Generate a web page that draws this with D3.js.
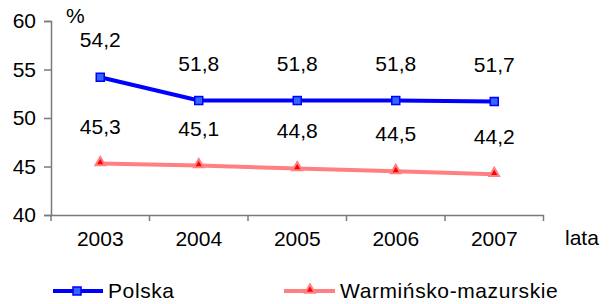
<!DOCTYPE html>
<html>
<head>
<meta charset="utf-8">
<script src="https://cdn.jsdelivr.net/npm/d3@7"></script>
<style>
  body { margin: 0; background: #fff; }
  svg { font-family: "Liberation Sans", Arial, sans-serif; }
  .tick text { font-size: 21px; fill: #000; }
</style>
</head>
<body>
<div class="chart"></div>
<script>
// data
var years = ["2003", "2004", "2005", "2006", "2007"];
var polska = [54.2, 51.8, 51.8, 51.8, 51.7];
var warminsko = [45.3, 45.1, 44.8, 44.5, 44.2];
var yTicks = [40, 45, 50, 55, 60];
var seriesNames = ["Polska", "Warmińsko-mazurskie"];

var svgWidth = 616;
var svgHeight = 304;

var svg = d3
  .select(".chart")
  .append("svg")
  .attr("width", svgWidth)
  .attr("height", svgHeight);

// scales
var xBand = d3.scaleBand().domain(years).range([51, 543.5]);
var yLinearScale = d3.scaleLinear().domain([40, 60]).range([215, 21]);
var xc = (d) => xBand(d) + xBand.bandwidth() / 2;

var axisColor = "#7a7a7a";

// y axis
var yAxis = d3.axisLeft(yLinearScale).tickValues(yTicks).tickSize(7).tickPadding(8);
var yG = svg.append("g").attr("transform", "translate(51,0)").call(yAxis);
yG.select(".domain").attr("stroke", axisColor).attr("stroke-width", 1.5);
yG.selectAll(".tick line").attr("stroke", axisColor).attr("stroke-width", 1.5);

// x axis: labels at band centres, ticks at band edges
var xAxis = d3.axisBottom(xBand).tickSize(0).tickPadding(16);
var xG = svg.append("g").attr("transform", "translate(0,215)").call(xAxis);
xG.select(".domain").attr("stroke", axisColor).attr("stroke-width", 1.5);
var edges = years.map((d) => xBand(d)).concat([xBand.range()[1]]);
svg.append("g")
  .selectAll("line")
  .data(edges)
  .enter()
  .append("line")
  .attr("x1", (d) => d)
  .attr("x2", (d) => d)
  .attr("y1", 215)
  .attr("y2", 221)
  .attr("stroke", axisColor)
  .attr("stroke-width", 1.5);

// axis titles
svg.append("text").attr("x", 66).attr("y", 23).attr("font-size", 21).text("%");
svg.append("text").attr("x", 565).attr("y", 245).attr("font-size", 21).text("lata");

var line = d3.line()
  .x((d, i) => xc(years[i]))
  .y((d) => yLinearScale(d));

// Polska
svg.append("path")
  .datum(polska)
  .attr("d", line)
  .attr("fill", "none")
  .attr("stroke", "#0000ff")
  .attr("stroke-width", 4);

svg.selectAll(".sq")
  .data(polska)
  .enter()
  .append("rect")
  .attr("class", "sq")
  .attr("x", (d, i) => xc(years[i]) - 4)
  .attr("y", (d) => yLinearScale(d) - 4)
  .attr("width", 8)
  .attr("height", 8)
  .attr("fill", "#3366ff")
  .attr("stroke", "#0000ff")
  .attr("stroke-width", 1.5);

// Warminsko-mazurskie
svg.append("path")
  .datum(warminsko)
  .attr("d", line)
  .attr("fill", "none")
  .attr("stroke", "#ff8080")
  .attr("stroke-width", 4);

var tri = d3.symbol().type(d3.symbolTriangle).size(40);
svg.selectAll(".tri")
  .data(warminsko)
  .enter()
  .append("path")
  .attr("class", "tri")
  .attr("d", tri)
  .attr("transform", (d, i) => `translate(${xc(years[i])},${yLinearScale(d) - 1})`)
  .attr("fill", "#ff0000")
  .attr("stroke", "#ff8080")
  .attr("stroke-width", 2);

// data labels
var fmt = (v) => v.toFixed(1).replace(".", ",");
[polska, warminsko].forEach(function (series) {
  svg.append("g")
    .selectAll("text")
    .data(series)
    .enter()
    .append("text")
    .attr("x", (d, i) => xc(years[i]))
    .attr("y", (d) => yLinearScale(d) - 30)
    .attr("text-anchor", "middle")
    .attr("font-size", 21)
    .text(fmt);
});

// legend
var legend = svg.append("g").attr("transform", "translate(0,291)");
legend.append("line").attr("x1", 53).attr("x2", 103).attr("y1", 0).attr("y2", 0)
  .attr("stroke", "#0000ff").attr("stroke-width", 4);
legend.append("rect").attr("x", 73).attr("y", -4).attr("width", 8).attr("height", 8)
  .attr("fill", "#3366ff").attr("stroke", "#0000ff").attr("stroke-width", 1.5);
legend.append("text").attr("x", 108).attr("y", 7).attr("font-size", 21)
  .attr("letter-spacing", 0.6).text(seriesNames[0]);

legend.append("line").attr("x1", 284).attr("x2", 335).attr("y1", 0).attr("y2", 0)
  .attr("stroke", "#ff8080").attr("stroke-width", 4);
legend.append("path").attr("d", tri).attr("transform", "translate(310,-1)")
  .attr("fill", "#ff0000").attr("stroke", "#ff8080").attr("stroke-width", 2);
legend.append("text").attr("x", 340).attr("y", 7).attr("font-size", 21)
  .attr("letter-spacing", 0.6).text(seriesNames[1]);
</script>
</body>
</html>
